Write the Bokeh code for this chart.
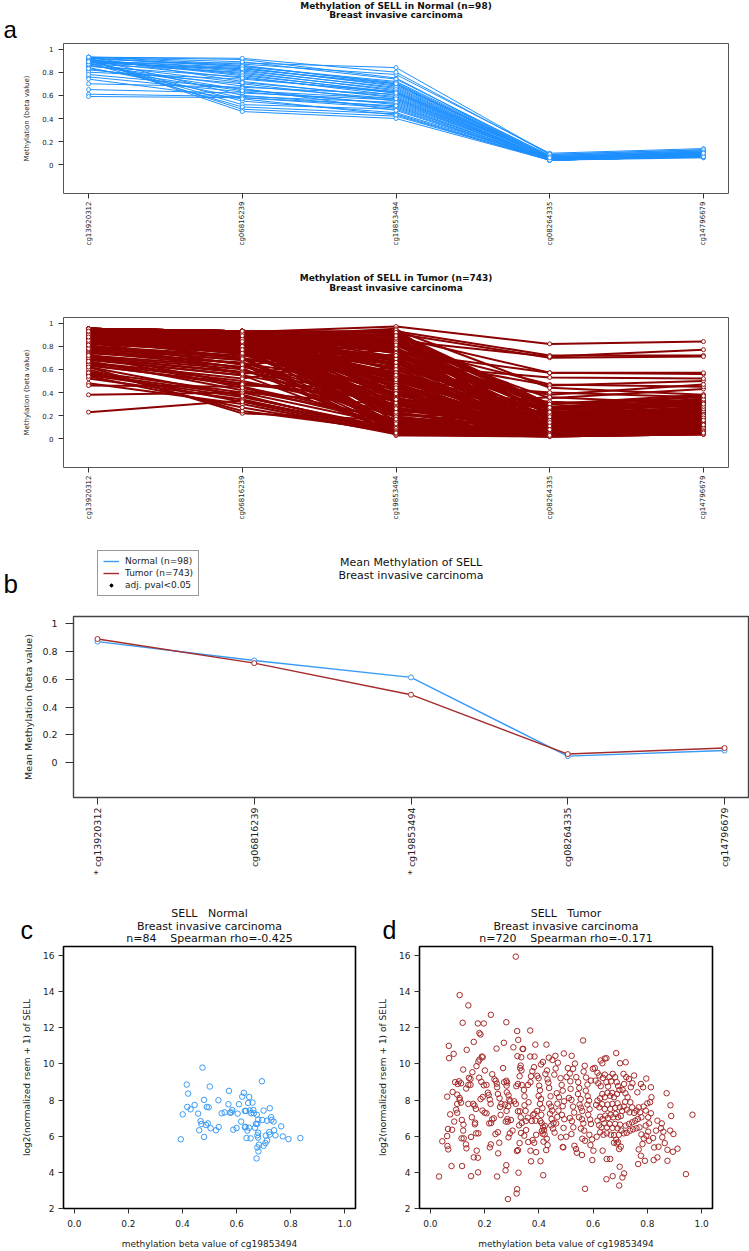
import math
from bokeh.plotting import figure
from bokeh.layouts import column, row
from bokeh.models import (FixedTicker, NumeralTickFormatter, PrintfTickFormatter,
                          Label, Legend, LegendItem, Range1d)
from bokeh.embed import file_html
from bokeh.resources import INLINE

FONT = "DejaVu Sans"
LETTER_FONT = "Liberation Sans"
NB = "\u00a0"

# ---------------- data ----------------
probes = ["cg13920312", "cg06816239", "cg19853494", "cg08264335", "cg14796679"]
probe_labels_b = ["* cg13920312", "cg06816239", "* cg19853494", "cg08264335", "cg14796679"]

# Panel a, Normal: per-sample beta values at each probe (profiles)
normal_cg13920312 = [0.93, 0.92, 0.90, 0.91, 0.88, 0.93, 0.89, 0.86, 0.92, 0.90,
                     0.87, 0.91, 0.85, 0.93, 0.82, 0.90, 0.88, 0.92, 0.80, 0.91,
                     0.89, 0.86, 0.93, 0.84, 0.90, 0.76, 0.70, 0.65, 0.61, 0.59,
                     0.92, 0.88, 0.91, 0.87, 0.78, 0.93, 0.83, 0.90, 0.74, 0.89]
normal_cg06816239 = [0.91, 0.86, 0.84, 0.78, 0.88, 0.72, 0.82, 0.65, 0.85, 0.55,
                     0.80, 0.48, 0.76, 0.87, 0.70, 0.52, 0.83, 0.60, 0.74, 0.46,
                     0.81, 0.68, 0.89, 0.58, 0.79, 0.63, 0.67, 0.62, 0.59, 0.58,
                     0.85, 0.50, 0.77, 0.71, 0.66, 0.92, 0.64, 0.83, 0.57, 0.75]
normal_cg19853494 = [0.75, 0.70, 0.68, 0.62, 0.84, 0.58, 0.66, 0.52, 0.72, 0.45,
                     0.64, 0.42, 0.60, 0.78, 0.55, 0.48, 0.69, 0.50, 0.63, 0.40,
                     0.67, 0.57, 0.74, 0.49, 0.65, 0.53, 0.61, 0.56, 0.54, 0.51,
                     0.71, 0.44, 0.63, 0.59, 0.47, 0.80, 0.57, 0.70, 0.43, 0.62]
normal_cg08264335 = [0.06, 0.05, 0.07, 0.04, 0.09, 0.05, 0.06, 0.04, 0.08, 0.05,
                     0.06, 0.04, 0.05, 0.10, 0.05, 0.04, 0.07, 0.05, 0.06, 0.04,
                     0.06, 0.05, 0.08, 0.04, 0.06, 0.05, 0.05, 0.04, 0.05, 0.04,
                     0.07, 0.04, 0.06, 0.05, 0.04, 0.09, 0.05, 0.07, 0.04, 0.06]
normal_cg14796679 = [0.10, 0.09, 0.11, 0.08, 0.13, 0.09, 0.10, 0.07, 0.12, 0.08,
                     0.10, 0.07, 0.09, 0.14, 0.09, 0.07, 0.11, 0.08, 0.10, 0.06,
                     0.10, 0.09, 0.12, 0.07, 0.10, 0.08, 0.09, 0.07, 0.08, 0.07,
                     0.11, 0.07, 0.10, 0.09, 0.08, 0.13, 0.09, 0.11, 0.07, 0.10]

# Panel a, Tumor
tumor_cg13920312 = [0.94, 0.92, 0.95, 0.93, 0.90, 0.94, 0.92, 0.89, 0.95, 0.91,
                    0.93, 0.90, 0.95, 0.92, 0.88, 0.94, 0.86, 0.93, 0.91, 0.95,
                    0.85, 0.94, 0.92, 0.88, 0.93, 0.82, 0.92, 0.95, 0.87, 0.90,
                    0.94, 0.80, 0.91, 0.93, 0.78, 0.95, 0.89, 0.84, 0.93, 0.76,
                    0.92, 0.95, 0.79, 0.90, 0.72, 0.94, 0.86, 0.92, 0.70, 0.95,
                    0.83, 0.93, 0.68, 0.95, 0.88, 0.74, 0.94, 0.65, 0.91, 0.95,
                    0.71, 0.93, 0.62, 0.95, 0.84, 0.58, 0.94, 0.90, 0.55, 0.95,
                    0.80, 0.52, 0.93, 0.48, 0.95, 0.92, 0.75, 0.94, 0.66, 0.84,
                    0.90, 0.60, 0.94, 0.63, 0.91, 0.46, 0.77, 0.23, 0.69, 0.56,
                    0.93, 0.87, 0.78, 0.94, 0.70, 0.91, 0.64, 0.95, 0.38, 0.89,
                    0.95, 0.93, 0.94, 0.92, 0.95, 0.91, 0.94, 0.93, 0.90, 0.95,
                    0.88, 0.94, 0.92, 0.95, 0.89, 0.93, 0.87, 0.94, 0.91, 0.95,
                    0.86, 0.92, 0.94, 0.90, 0.95, 0.83, 0.93, 0.88, 0.94, 0.81,
                    0.95, 0.92, 0.85, 0.94, 0.89, 0.93, 0.73, 0.95, 0.67, 0.91,
                    0.94, 0.62, 0.92, 0.57, 0.95, 0.90, 0.54, 0.93, 0.72, 0.88]
tumor_cg06816239 = [0.92, 0.88, 0.93, 0.90, 0.86, 0.91, 0.89, 0.84, 0.92, 0.87,
                    0.90, 0.85, 0.92, 0.88, 0.83, 0.91, 0.80, 0.89, 0.86, 0.93,
                    0.78, 0.92, 0.87, 0.82, 0.90, 0.75, 0.88, 0.93, 0.80, 0.85,
                    0.91, 0.72, 0.86, 0.89, 0.68, 0.92, 0.83, 0.77, 0.90, 0.65,
                    0.88, 0.93, 0.70, 0.84, 0.62, 0.91, 0.79, 0.87, 0.58, 0.92,
                    0.74, 0.89, 0.55, 0.93, 0.81, 0.66, 0.90, 0.50, 0.86, 0.92,
                    0.60, 0.88, 0.22, 0.93, 0.76, 0.40, 0.91, 0.85, 0.36, 0.92,
                    0.70, 0.34, 0.89, 0.30, 0.93, 0.88, 0.62, 0.93, 0.52, 0.74,
                    0.85, 0.24, 0.92, 0.48, 0.87, 0.45, 0.65, 0.33, 0.55, 0.38,
                    0.90, 0.80, 0.68, 0.91, 0.57, 0.86, 0.46, 0.93, 0.40, 0.83,
                    0.93, 0.90, 0.92, 0.87, 0.93, 0.84, 0.91, 0.89, 0.81, 0.92,
                    0.78, 0.90, 0.86, 0.93, 0.76, 0.88, 0.73, 0.91, 0.83, 0.93,
                    0.70, 0.87, 0.92, 0.79, 0.93, 0.64, 0.89, 0.69, 0.92, 0.61,
                    0.93, 0.85, 0.56, 0.90, 0.74, 0.88, 0.47, 0.92, 0.42, 0.86,
                    0.91, 0.37, 0.84, 0.32, 0.93, 0.80, 0.27, 0.89, 0.44, 0.77]
tumor_cg19853494 = [0.97, 0.95, 0.93, 0.92, 0.91, 0.90, 0.89, 0.88, 0.87, 0.86,
                    0.85, 0.84, 0.83, 0.82, 0.80, 0.79, 0.78, 0.76, 0.75, 0.74,
                    0.72, 0.71, 0.70, 0.68, 0.67, 0.66, 0.64, 0.63, 0.62, 0.60,
                    0.59, 0.58, 0.56, 0.55, 0.54, 0.52, 0.51, 0.50, 0.48, 0.47,
                    0.46, 0.44, 0.43, 0.42, 0.40, 0.39, 0.38, 0.36, 0.35, 0.34,
                    0.32, 0.31, 0.30, 0.28, 0.27, 0.26, 0.24, 0.23, 0.22, 0.20,
                    0.19, 0.18, 0.16, 0.15, 0.14, 0.12, 0.11, 0.10, 0.09, 0.08,
                    0.07, 0.06, 0.05, 0.04, 0.03, 0.94, 0.88, 0.81, 0.73, 0.65,
                    0.57, 0.07, 0.41, 0.33, 0.25, 0.17, 0.13, 0.08, 0.06, 0.05,
                    0.90, 0.85, 0.77, 0.69, 0.61, 0.53, 0.45, 0.37, 0.29, 0.21,
                    0.92, 0.87, 0.83, 0.78, 0.74, 0.69, 0.65, 0.60, 0.57, 0.53,
                    0.49, 0.46, 0.42, 0.38, 0.35, 0.31, 0.27, 0.23, 0.19, 0.15,
                    0.12, 0.10, 0.08, 0.07, 0.06, 0.05, 0.04, 0.04, 0.03, 0.05,
                    0.89, 0.81, 0.72, 0.63, 0.55, 0.44, 0.34, 0.26, 0.17, 0.11,
                    0.09, 0.07, 0.06, 0.05, 0.04, 0.66, 0.05, 0.51, 0.13, 0.39]
tumor_cg08264335 = [0.82, 0.05, 0.72, 0.04, 0.70, 0.28, 0.06, 0.57, 0.03, 0.22,
                    0.71, 0.04, 0.35, 0.08, 0.47, 0.05, 0.30, 0.03, 0.57, 0.06,
                    0.25, 0.04, 0.46, 0.07, 0.18, 0.03, 0.53, 0.05, 0.20, 0.04,
                    0.38, 0.06, 0.03, 0.24, 0.05, 0.15, 0.04, 0.40, 0.07, 0.03,
                    0.12, 0.05, 0.32, 0.04, 0.08, 0.03, 0.19, 0.06, 0.04, 0.27,
                    0.05, 0.10, 0.03, 0.36, 0.04, 0.07, 0.14, 0.03, 0.05, 0.22,
                    0.04, 0.09, 0.03, 0.06, 0.16, 0.04, 0.05, 0.03, 0.11, 0.04,
                    0.03, 0.05, 0.02, 0.04, 0.03, 0.44, 0.07, 0.26, 0.05, 0.13,
                    0.04, 0.21, 0.03, 0.06, 0.17, 0.04, 0.09, 0.05, 0.03, 0.04,
                    0.30, 0.10, 0.05, 0.18, 0.04, 0.08, 0.03, 0.23, 0.06, 0.12,
                    0.30, 0.26, 0.22, 0.18, 0.25, 0.14, 0.20, 0.12, 0.17, 0.10,
                    0.15, 0.08, 0.13, 0.07, 0.11, 0.06, 0.09, 0.05, 0.08, 0.04,
                    0.06, 0.05, 0.04, 0.03, 0.04, 0.03, 0.02, 0.03, 0.02, 0.03,
                    0.27, 0.21, 0.16, 0.19, 0.12, 0.09, 0.14, 0.07, 0.05, 0.06,
                    0.04, 0.03, 0.05, 0.03, 0.02, 0.23, 0.04, 0.11, 0.03, 0.08]
tumor_cg14796679 = [0.84, 0.08, 0.72, 0.06, 0.71, 0.33, 0.10, 0.56, 0.05, 0.27,
                    0.77, 0.07, 0.43, 0.12, 0.45, 0.09, 0.38, 0.05, 0.57, 0.09,
                    0.30, 0.06, 0.50, 0.11, 0.24, 0.05, 0.52, 0.08, 0.35, 0.07,
                    0.47, 0.10, 0.06, 0.20, 0.08, 0.22, 0.07, 0.36, 0.11, 0.05,
                    0.18, 0.08, 0.28, 0.07, 0.13, 0.06, 0.25, 0.10, 0.07, 0.31,
                    0.09, 0.15, 0.05, 0.30, 0.08, 0.12, 0.20, 0.06, 0.09, 0.26,
                    0.07, 0.14, 0.05, 0.10, 0.22, 0.07, 0.09, 0.05, 0.17, 0.08,
                    0.06, 0.09, 0.04, 0.07, 0.05, 0.38, 0.12, 0.32, 0.08, 0.19,
                    0.07, 0.27, 0.05, 0.10, 0.23, 0.07, 0.14, 0.09, 0.06, 0.07,
                    0.36, 0.15, 0.08, 0.24, 0.07, 0.13, 0.05, 0.29, 0.10, 0.18,
                    0.34, 0.31, 0.25, 0.22, 0.29, 0.19, 0.24, 0.16, 0.21, 0.14,
                    0.19, 0.12, 0.17, 0.10, 0.15, 0.09, 0.13, 0.08, 0.11, 0.07,
                    0.09, 0.08, 0.06, 0.05, 0.07, 0.05, 0.04, 0.05, 0.04, 0.06,
                    0.37, 0.26, 0.20, 0.28, 0.15, 0.12, 0.18, 0.10, 0.08, 0.09,
                    0.06, 0.05, 0.07, 0.05, 0.04, 0.30, 0.06, 0.16, 0.05, 0.12]

# Panel b: mean methylation
mean_normal = [0.868, 0.733, 0.612, 0.048, 0.088]
mean_tumor = [0.887, 0.714, 0.488, 0.063, 0.106]

# Panel c: Normal scatter
c_beta = [0.394, 0.401, 0.416, 0.421, 0.418, 0.430, 0.445, 0.458, 0.462, 0.467,
          0.470, 0.474, 0.480, 0.480, 0.490, 0.497, 0.494, 0.487, 0.501, 0.504,
          0.524, 0.533, 0.534, 0.556, 0.570, 0.572, 0.576, 0.581, 0.584, 0.588,
          0.600, 0.604, 0.609, 0.617, 0.621, 0.627, 0.631, 0.635, 0.631, 0.637,
          0.640, 0.643, 0.647, 0.649, 0.646, 0.652, 0.654, 0.659, 0.662, 0.664,
          0.668, 0.672, 0.675, 0.677, 0.677, 0.680, 0.683, 0.680, 0.677, 0.681,
          0.674, 0.680, 0.694, 0.695, 0.700, 0.700, 0.707, 0.708, 0.713, 0.713,
          0.721, 0.723, 0.723, 0.728, 0.729, 0.737, 0.739, 0.744, 0.765, 0.771,
          0.792, 0.836, 0.545, 0.633]
c_expr = [5.83, 7.21, 8.86, 8.36, 7.62, 7.49, 7.73, 7.25, 6.33, 6.84,
          6.68, 9.80, 8.01, 5.96, 7.62, 7.60, 6.71, 6.62, 8.75, 6.44,
          6.33, 7.99, 6.51, 7.32, 7.77, 8.51, 7.30, 7.32, 7.45, 6.36,
          6.45, 7.25, 7.77, 6.81, 8.19, 8.40, 7.40, 7.40, 6.49, 5.90,
          6.31, 7.84, 8.17, 7.43, 6.47, 5.88, 7.27, 7.86, 7.45, 7.27,
          6.47, 6.68, 7.19, 6.05, 5.38, 5.92, 5.53, 6.19, 6.68, 5.16,
          4.77, 6.92, 9.04, 6.90, 7.42, 5.47, 5.62, 6.03, 6.86, 5.77,
          6.23, 7.55, 6.09, 7.05, 6.90, 6.81, 6.33, 6.05, 6.55, 5.99,
          5.84, 5.90, 7.27, 6.52]

# Panel d: Tumor scatter
d_beta = [0.315, 0.108, 0.140, 0.223, 0.119, 0.175, 0.197, 0.280, 0.368, 0.320,
          0.181, 0.185, 0.563, 0.160, 0.324, 0.068, 0.271, 0.244, 0.134, 0.069,
          0.086, 0.685, 0.387, 0.428, 0.306, 0.342, 0.193, 0.384, 0.461, 0.492,
          0.521, 0.649, 0.699, 0.720, 0.796, 0.871, 0.885, 0.888, 0.966, 0.942,
          0.032, 0.078, 0.117, 0.150, 0.176, 0.246, 0.277, 0.280, 0.286, 0.318,
          0.320, 0.325, 0.371, 0.406, 0.416, 0.570, 0.649, 0.672, 0.696, 0.708,
          0.714, 0.698, 0.766, 0.791, 0.823, 0.837, 0.874, 0.894, 0.911,
          0.044, 0.063, 0.066, 0.062, 0.065, 0.062, 0.073, 0.080, 0.088, 0.082,
          0.099, 0.095, 0.091, 0.101, 0.106, 0.113, 0.099, 0.108, 0.108, 0.099,
          0.113, 0.121, 0.132, 0.116, 0.122, 0.121, 0.123, 0.131, 0.133, 0.115,
          0.140, 0.148, 0.142, 0.155, 0.148, 0.140, 0.153, 0.158, 0.163, 0.168,
          0.165, 0.169, 0.177, 0.164, 0.160, 0.171, 0.175, 0.150,
          0.170, 0.177, 0.181, 0.190, 0.180, 0.188, 0.197, 0.185, 0.193, 0.192,
          0.200, 0.207, 0.201, 0.207, 0.212, 0.215, 0.219, 0.222, 0.217, 0.219,
          0.223, 0.224, 0.228, 0.234, 0.228, 0.236, 0.241, 0.245, 0.246, 0.249,
          0.255, 0.257, 0.259, 0.262, 0.249, 0.254, 0.250, 0.240,
          0.268, 0.272, 0.280, 0.283, 0.281, 0.282, 0.288, 0.291, 0.294, 0.275,
          0.287, 0.281, 0.284, 0.278, 0.286, 0.297, 0.293, 0.288, 0.303, 0.309,
          0.315, 0.317, 0.323, 0.321, 0.335, 0.340, 0.329, 0.333, 0.331, 0.336,
          0.337, 0.345, 0.347, 0.323, 0.330, 0.333, 0.337, 0.327, 0.334, 0.329,
          0.323, 0.319, 0.347, 0.351, 0.352, 0.359, 0.362, 0.360, 0.369, 0.371,
          0.368, 0.382, 0.376, 0.353, 0.346, 0.361, 0.369, 0.377, 0.383, 0.390,
          0.390, 0.374, 0.379, 0.384, 0.388, 0.393,
          0.394, 0.399, 0.401, 0.404, 0.399, 0.408, 0.404, 0.413, 0.409, 0.405,
          0.410, 0.416, 0.411, 0.419, 0.414, 0.421, 0.422, 0.417, 0.429, 0.432,
          0.427, 0.408, 0.415, 0.430, 0.424, 0.432, 0.435, 0.438, 0.443, 0.438,
          0.445, 0.449, 0.441, 0.447, 0.454, 0.452, 0.458, 0.464, 0.468, 0.472,
          0.468, 0.474, 0.466, 0.457, 0.462, 0.470, 0.480, 0.484, 0.488, 0.493,
          0.488, 0.485, 0.494, 0.491, 0.481, 0.488, 0.490, 0.501, 0.446, 0.437,
          0.450,
          0.502, 0.507, 0.514, 0.516, 0.517, 0.511, 0.520, 0.526, 0.530, 0.514,
          0.522, 0.527, 0.520, 0.531, 0.537, 0.540, 0.533, 0.526, 0.538, 0.545,
          0.549, 0.544, 0.554, 0.550, 0.555, 0.560, 0.548, 0.559, 0.564, 0.555,
          0.567, 0.560, 0.570, 0.559, 0.569, 0.565, 0.574, 0.579, 0.573, 0.580,
          0.585, 0.579, 0.587, 0.582, 0.589, 0.592, 0.586, 0.596, 0.590, 0.601,
          0.597, 0.592, 0.599,
          0.606, 0.616, 0.623, 0.628, 0.634, 0.643, 0.609, 0.619, 0.628, 0.636,
          0.643, 0.649, 0.655, 0.660, 0.666, 0.672, 0.681, 0.687, 0.692, 0.697,
          0.688, 0.677, 0.670, 0.663, 0.653, 0.643, 0.634, 0.626, 0.616, 0.611,
          0.623, 0.633, 0.643, 0.653, 0.663, 0.671, 0.681, 0.690, 0.698, 0.707,
          0.702, 0.692, 0.683, 0.674, 0.665, 0.655, 0.645, 0.635, 0.626, 0.616,
          0.622, 0.631, 0.641, 0.651, 0.661, 0.671, 0.681, 0.690, 0.699, 0.704,
          0.695, 0.685, 0.692, 0.702, 0.677, 0.665, 0.650, 0.638, 0.626, 0.613,
          0.635, 0.650, 0.663, 0.677, 0.687, 0.696,
          0.712, 0.722, 0.732, 0.739, 0.745, 0.751, 0.714, 0.709, 0.719, 0.727,
          0.737, 0.718, 0.713, 0.724, 0.734, 0.744, 0.751, 0.760, 0.768, 0.773,
          0.778, 0.765, 0.755, 0.744, 0.732, 0.720, 0.724, 0.713, 0.736, 0.747,
          0.760, 0.771, 0.778, 0.787, 0.796, 0.803, 0.794, 0.806, 0.803, 0.813,
          0.794, 0.786, 0.800, 0.810, 0.815, 0.784, 0.776, 0.763, 0.813, 0.782,
          0.806, 0.821, 0.832, 0.837, 0.850, 0.859, 0.855, 0.864, 0.825, 0.841,
          0.768, 0.776, 0.884, 0.896, 0.853, 0.874]
d_expr = [15.94, 13.81, 13.24, 12.72, 12.28, 12.24, 12.24, 12.31, 11.85, 11.82,
          11.71, 11.63, 11.30, 11.22, 11.33, 11.00, 11.17, 10.85, 10.78, 10.32,
          10.56, 10.60, 11.07, 11.07, 10.92, 10.83, 10.37, 10.41, 10.45, 10.58,
          10.45, 10.32, 10.04, 10.09, 9.19, 8.38, 7.71, 7.12, 7.19, 3.90,
          3.77, 4.35, 4.35, 3.79, 4.00, 3.77, 4.11, 4.40, 2.52, 2.83,
          3.07, 3.98, 4.61, 4.62, 3.84, 3.09, 3.62, 3.79, 3.27, 3.72,
          3.94, 4.31, 4.46, 4.64, 4.68, 4.83, 4.64, 5.14, 5.31,
          5.72, 5.46, 5.27, 6.01, 6.40, 8.19, 7.21, 6.36, 6.81, 8.45,
          7.30, 7.47, 8.99, 8.89, 9.04, 8.93, 8.30, 8.01, 8.12, 7.79,
          7.86, 9.69, 8.64, 6.90, 6.64, 6.31, 5.88, 5.55, 5.33, 5.88,
          8.84, 8.84, 9.23, 9.54, 9.17, 7.79, 7.05, 7.79, 7.69, 7.51,
          6.75, 6.16, 6.16, 6.66, 4.83, 5.20, 4.81, 5.96,
          9.88, 10.13, 10.24, 10.41, 9.24, 9.01, 8.82, 8.06, 8.17, 7.42,
          7.30, 7.27, 9.64, 8.84, 8.41, 8.28, 8.03, 7.79, 6.71, 5.38,
          5.55, 6.73, 6.93, 6.99, 9.43, 9.15, 9.07, 8.91, 8.71, 8.34,
          8.10, 7.62, 7.18, 7.79, 6.22, 5.64, 5.05, 6.12,
          9.77, 8.99, 9.07, 8.97, 8.80, 8.43, 8.27, 8.03, 7.93, 7.75,
          7.66, 7.40, 6.95, 6.81, 6.81, 6.90, 6.16, 5.94, 6.31, 7.93,
          7.79, 8.77, 8.89, 10.43, 10.37, 10.83, 9.32, 9.91, 9.77, 9.64,
          8.84, 8.56, 8.21, 7.38, 7.38, 7.05, 6.73, 6.60, 6.18, 5.62,
          5.23, 5.18, 7.71, 7.40, 6.84, 7.03, 7.88, 8.84, 8.99, 9.32,
          10.41, 9.82, 9.60, 6.34, 6.03, 5.68, 5.20, 5.79, 5.64, 5.12,
          6.08, 6.84, 7.18, 7.25, 6.86, 7.40,
          9.34, 9.21, 8.80, 8.54, 8.23, 8.06, 7.79, 7.55, 7.18, 6.84,
          6.73, 6.49, 6.29, 6.34, 6.14, 6.10, 6.57, 5.70, 5.86, 5.51,
          5.23, 9.97, 10.11, 9.64, 9.45, 9.15, 8.97, 8.67, 8.21, 7.80,
          7.64, 7.42, 7.25, 6.95, 6.73, 6.42, 6.20, 6.71, 7.07, 7.42,
          7.80, 8.16, 8.38, 9.41, 9.75, 10.07, 9.21, 8.84, 8.52, 7.93,
          7.66, 7.18, 6.94, 6.46, 5.94, 5.40, 5.38, 5.97, 6.60, 10.35,
          10.22,
          9.27, 9.77, 9.47, 9.04, 8.62, 8.12, 8.01, 7.64, 7.31, 7.01,
          6.83, 6.49, 6.12, 5.47, 5.29, 5.09, 10.02, 9.73, 9.27, 8.99,
          8.67, 8.34, 8.06, 7.75, 7.58, 7.40, 7.05, 6.94, 6.71, 6.42,
          6.31, 5.86, 5.75, 4.96, 9.90, 9.58, 9.25, 8.86, 8.52, 8.21,
          7.97, 7.75, 7.49, 7.19, 6.92, 6.68, 6.08, 5.82, 5.51, 5.20,
          4.68, 9.08, 9.73,
          9.78, 9.51, 9.36, 10.19, 10.04, 10.30, 9.08, 8.93, 8.77, 9.23,
          9.41, 8.99, 8.75, 9.27, 9.04, 9.45, 9.27, 8.99, 8.78, 8.56,
          8.34, 8.16, 8.40, 8.23, 8.40, 8.16, 8.34, 8.10, 7.97, 7.73,
          7.60, 7.77, 7.51, 7.75, 7.51, 7.79, 7.57, 7.82, 7.60, 7.40,
          7.12, 7.05, 7.23, 7.05, 7.19, 7.01, 7.14, 6.95, 7.08, 6.86,
          6.60, 6.49, 6.71, 6.49, 6.68, 6.46, 6.68, 6.44, 6.64, 6.31,
          6.08, 5.81, 5.66, 5.42, 6.06, 6.08, 6.16, 6.08, 6.22, 5.97,
          5.20, 4.74, 4.74, 5.64, 5.60, 5.29,
          9.45, 9.27, 9.17, 8.71, 8.93, 9.36, 8.89, 8.56, 8.38, 8.16,
          7.88, 7.90, 7.64, 7.47, 7.32, 7.60, 7.29, 7.42, 7.60, 7.32,
          7.05, 6.95, 6.86, 6.77, 6.68, 6.59, 6.19, 6.16, 6.31, 6.38,
          6.44, 6.49, 6.10, 5.88, 6.03, 6.25, 6.59, 6.71, 7.05, 7.27,
          7.42, 7.64, 7.82, 7.88, 8.16, 8.71, 8.89, 8.43, 8.71, 5.57,
          5.75, 5.90, 6.31, 6.86, 6.44, 6.25, 5.94, 5.62, 5.38, 5.42,
          5.27, 4.92, 6.31, 6.12, 6.71, 5.25]

# ---------------- styling ----------------
BLUE_A = "#1E90FF"
RED_A = "#8B0000"
BLUE_B = "#3A9BF5"
RED_B = "#A52A2A"
PAGE_W = 749


def header(width, height):
    h = figure(width=width, height=height, x_range=Range1d(0, width), y_range=Range1d(0, height),
               x_axis_type=None, y_axis_type=None, output_backend="svg",
               toolbar_location=None, min_border=0)
    h.outline_line_color = None
    h.background_fill_color = "white"
    h.border_fill_color = "white"
    h.grid.visible = False
    return h


def htext(h, sx, t, text, size, style="normal", align="center",
          font=FONT, color="#111111"):
    # sx: pixels from the left of the header, t: pixels from its top (text middle)
    h.add_layout(Label(x=sx, y=h.height - t, text=text, text_align=align,
                       text_baseline="middle", text_font=font, text_font_size=size,
                       text_font_style=style, text_color=color))


def base_style(p, tick_font, outline_color, outline_w):
    p.grid.visible = False
    p.background_fill_color = "white"
    p.border_fill_color = "white"
    p.outline_line_color = outline_color
    p.outline_line_width = outline_w
    for ax in (p.xaxis[0], p.yaxis[0]):
        ax.axis_line_color = None
        ax.minor_tick_line_color = None
        ax.major_tick_in = 0
        ax.major_tick_line_color = "#333333"
        ax.major_label_text_font = FONT
        ax.major_label_text_font_size = tick_font
        ax.major_label_text_color = "#222222"
        ax.axis_label_text_font = FONT
        ax.axis_label_text_font_style = "normal"
        ax.axis_label_text_color = "#222222"


def profile_panel(cols, color, fig_h, top, line_w):
    FL, FR, FH = 63, 21, 150
    x0, x1 = -0.163, 4.163
    y0, y1 = -0.248, 1.048
    p = figure(width=PAGE_W, height=fig_h, x_range=Range1d(x0, x1), y_range=Range1d(y0, y1),
               output_backend="svg", toolbar_location=None,
               min_border_left=FL, min_border_right=FR, min_border_top=top,
               min_border_bottom=fig_h - top - FH)
    rows = list(zip(*cols))
    pos = list(range(len(probes)))
    p.multi_line([pos for _ in rows], [list(r) for r in rows],
                 line_color=color, line_width=line_w)
    p.scatter([i for _ in rows for i in pos], [v for r in rows for v in r],
              marker="circle", size=4, line_color=color, fill_color="white", line_width=0.9)
    base_style(p, "7px", "#555555", 1)
    p.xaxis.ticker = FixedTicker(ticks=pos)
    p.xaxis.major_label_overrides = {i: probes[i] for i in pos}
    p.xaxis.major_label_orientation = math.pi / 2
    p.xaxis.major_tick_out = 5
    p.xaxis.major_label_standoff = 3
    p.yaxis.ticker = FixedTicker(ticks=[0, 0.2, 0.4, 0.6, 0.8, 1.0])
    p.yaxis.formatter = NumeralTickFormatter(format="0.[0]")
    p.yaxis.major_tick_out = 5
    p.yaxis.major_label_standoff = 5
    p.yaxis.axis_label = "Methylation (beta value)"
    p.yaxis.axis_label_text_font_size = "7px"
    p.yaxis.axis_label_standoff = 8
    return p


normal_cols = [normal_cg13920312, normal_cg06816239, normal_cg19853494,
               normal_cg08264335, normal_cg14796679]
tumor_cols = [tumor_cg13920312, tumor_cg06816239, tumor_cg19853494,
              tumor_cg08264335, tumor_cg14796679]

A_CX = 63 + (PAGE_W - 63 - 21) / 2

ha1 = header(PAGE_W, 42)
htext(ha1, A_CX, 5, "Methylation of SELL in Normal (n=98)", "9px", style="bold")
htext(ha1, A_CX, 14, "Breast invasive carcinoma", "9px", style="bold")
htext(ha1, 3, 29, "a", "24px", align="left", font=LETTER_FONT, color="black")
pa1 = profile_panel(normal_cols, BLUE_A, 228, 1, 1.0)

ha2 = header(PAGE_W, 45)
htext(ha2, A_CX, 7, "Methylation of SELL in Tumor (n=743)", "9px", style="bold")
htext(ha2, A_CX, 17, "Breast invasive carcinoma", "9px", style="bold")
pa2 = profile_panel(tumor_cols, RED_A, 211, 2, 2.0)

# ---------------- panel b ----------------
FL, FR, FT, FH, H = 73, 1, 2, 181, 266
bx0, bx1 = -0.153, 4.153
by0, by1 = -0.248, 1.048
pb = figure(width=PAGE_W, height=H, x_range=Range1d(bx0, bx1), y_range=Range1d(by0, by1),
            output_backend="svg", toolbar_location=None,
            min_border_left=FL, min_border_right=FR, min_border_top=FT,
            min_border_bottom=H - FT - FH)
pos = list(range(len(probes)))
pb.line(pos, mean_normal, line_color=BLUE_B, line_width=1.4)
pb.scatter(pos, mean_normal, marker="circle", size=5, line_color=BLUE_B, fill_color="white", line_width=1)
pb.line(pos, mean_tumor, line_color=RED_B, line_width=1.4)
pb.scatter(pos, mean_tumor, marker="circle", size=5, line_color=RED_B, fill_color="white", line_width=1)
base_style(pb, "9.5px", "#444444", 1.4)
pb.xaxis.ticker = FixedTicker(ticks=pos)
pb.xaxis.major_label_overrides = {i: probe_labels_b[i] for i in pos}
pb.xaxis.major_label_orientation = math.pi / 2
pb.xaxis.major_tick_out = 7
pb.xaxis.major_label_standoff = 3
pb.yaxis.ticker = FixedTicker(ticks=[0, 0.2, 0.4, 0.6, 0.8, 1.0])
pb.yaxis.formatter = NumeralTickFormatter(format="0.[0]")
pb.yaxis.major_tick_out = 8
pb.yaxis.major_label_standoff = 8
pb.yaxis.axis_label = "Mean Methylation (beta value)"
pb.yaxis.axis_label_text_font_size = "9.5px"
pb.yaxis.axis_label_standoff = 5

hb = header(PAGE_W, 88)
# legend proxies: placed outside the header's visible range so only their legend swatches show
ln = hb.line(x=[-50, -40], y=[-50, -50], line_color=BLUE_B, line_width=1.4)
lt = hb.line(x=[-50, -40], y=[-50, -50], line_color=RED_B, line_width=1.4)
ls = hb.scatter(x=[-50], y=[-50], marker="asterisk", size=8, line_color="black", line_width=1)
legend = Legend(items=[LegendItem(label="Normal (n=98)", renderers=[ln]),
                       LegendItem(label="Tumor (n=743)", renderers=[lt]),
                       LegendItem(label="adj. pval<0.05", renderers=[ls])],
                location=(97, 18), orientation="vertical")
legend.border_line_color = "#333333"
legend.border_line_width = 1
legend.background_fill_color = "white"
legend.label_text_font = FONT
legend.label_text_font_size = "9px"
legend.label_text_color = "#222222"
legend.glyph_width = 16
legend.glyph_height = 10
legend.label_height = 10
legend.spacing = 2
legend.padding = 5
legend.margin = 0
legend.label_standoff = 6
hb.add_layout(legend, "center")
B_CX = FL + (PAGE_W - FL - FR) / 2
htext(hb, B_CX, 36, "Mean Methylation of SELL", "11px")
htext(hb, B_CX, 49, "Breast invasive carcinoma", "11px")
htext(hb, 3, 57, "b", "26px", align="left", font=LETTER_FONT, color="black")


# ---------------- panels c / d ----------------
def scatter_panel(xv, yv, color, width, fl, fr):
    H, FT, FB = 307, 2, 43
    sx0, sx1 = -0.04, 1.04
    sy0, sy1 = 2.0, 16.5
    p = figure(width=width, height=H, x_range=Range1d(sx0, sx1), y_range=Range1d(sy0, sy1),
               output_backend="svg", toolbar_location=None,
               min_border_left=fl, min_border_right=fr, min_border_top=FT,
               min_border_bottom=FB)
    p.scatter(xv, yv, marker="circle", size=5.5, line_color=color, fill_color=None, line_width=1)
    base_style(p, "9px", "black", 1.6)
    p.xaxis.ticker = FixedTicker(ticks=[0.0, 0.2, 0.4, 0.6, 0.8, 1.0])
    p.xaxis.formatter = PrintfTickFormatter(format="%.1f")
    p.xaxis.major_tick_out = 5
    p.xaxis.major_label_standoff = 6
    p.xaxis.axis_label = "methylation beta value of cg19853494"
    p.xaxis.axis_label_text_font_size = "9px"
    p.xaxis.axis_label_standoff = 9
    p.yaxis.ticker = FixedTicker(ticks=[2, 4, 6, 8, 10, 12, 14, 16])
    p.yaxis.major_tick_out = 5
    p.yaxis.major_label_standoff = 4
    p.yaxis.axis_label = "log2(normalized rsem + 1) of SELL"
    p.yaxis.axis_label_text_font_size = "9px"
    p.yaxis.axis_label_standoff = 8
    return p


def scatter_header(width, fl, fr, line1, line3, letter, letter_x):
    h = header(width, 64)
    cx = fl + (width - fl - fr) / 2
    htext(h, cx, 33, line1, "11px")
    htext(h, cx, 46, "Breast invasive carcinoma", "11px")
    htext(h, cx, 58, line3, "11px")
    htext(h, letter_x, 49, letter, "25px", align="left", font=LETTER_FONT, color="black")
    return h


hc = scatter_header(372, 63, 17, "SELL" + NB * 3 + "Normal",
                    "n=84" + NB * 4 + "Spearman rho=-0.425", "c", 20)
pc = scatter_panel(c_beta, c_expr, BLUE_B, 372, 63, 17)
hd = scatter_header(377, 47, 37, "SELL" + NB * 3 + "Tumor",
                    "n=720" + NB * 4 + "Spearman rho=-0.171", "d", 10)
pd_ = scatter_panel(d_beta, d_expr, RED_B, 377, 47, 37)

# every figure is wrapped on its own so that frames are not aligned across figures
layout = column(row(ha1), row(pa1), row(ha2), row(pa2), row(hb), row(pb),
                row(column(row(hc), row(pc)), column(row(hd), row(pd_))))
open("out.html", "w").write(file_html(layout, INLINE))
